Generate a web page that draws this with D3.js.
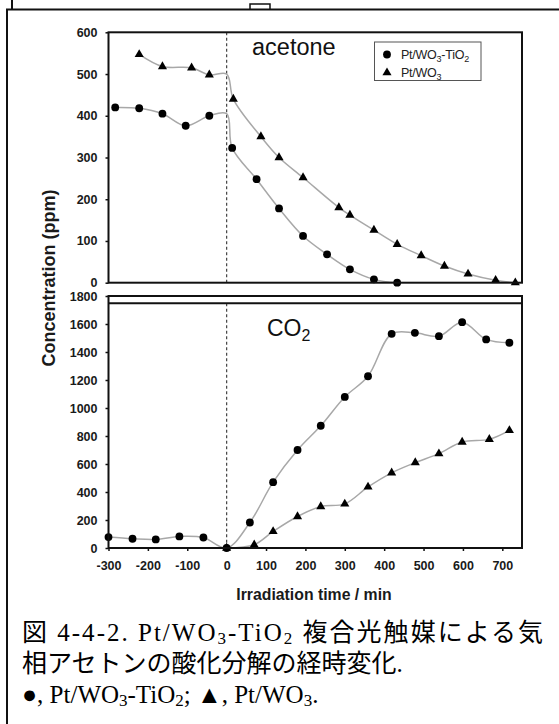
<!DOCTYPE html>
<html>
<head>
<meta charset="utf-8">
<script src="https://cdn.jsdelivr.net/npm/d3@7"></script>
<style>
  html, body { margin: 0; padding: 0; background: #fff; }
  svg { display: block; }
</style>
</head>
<body>
<svg id="fig" width="559" height="724"></svg>
<script>
// ---- Gas-phase acetone (ppm) ----
const acetoneTimeTiO2 = [-283, -222, -163, -104, -44, 14, 76, 133, 194, 255, 313, 374, 433];
const acetoneTiO2     = [420, 418, 405, 376, 400, 323, 248, 178, 112, 68, 32, 8, 0];
const acetoneTimeWO3  = [-222, -163, -89, -44, 17, 87, 133, 194, 285, 313, 374, 433, 494, 553, 613, 683, 733];
const acetoneWO3      = [547, 518, 515, 498, 440, 350, 300, 252, 180, 162, 126, 92, 65, 40, 21, 6, 0];
// level at the moment the lamp is switched on (curve vertex only): [Pt/WO3-TiO2, Pt/WO3]
const acetoneAtLightOn = [405, 500];

// ---- Evolved CO2 (ppm) ----
const co2TimeTiO2 = [-300, -239, -180, -120, -59, 0, 59, 118, 180, 239, 300, 359, 419, 478, 539, 598, 659, 718];
const co2TiO2     = [78, 66, 61, 83, 75, 0, 182, 470, 700, 873, 1079, 1227, 1530, 1537, 1513, 1613, 1490, 1466];
const co2TimeWO3  = [0, 70, 118, 180, 239, 300, 359, 419, 479, 539, 598, 667, 718];
const co2WO3      = [0, 23, 118, 225, 296, 315, 436, 537, 610, 674, 757, 776, 840];

// ---- axes ----
const timeTicks    = [-300, -200, -100, 0, 100, 200, 300, 400, 500, 600, 700];
const acetoneTicks = [0, 100, 200, 300, 400, 500, 600];
const co2Ticks     = [0, 200, 400, 600, 800, 1000, 1200, 1400, 1600, 1800];
const timeDomain    = [-300, 750];
const acetoneDomain = [0, 600];
const co2Domain     = [0, 1800];

const seriesNames = ["Pt/WO3-TiO2", "Pt/WO3"];

const svg = d3.select("#fig");
const tickFont = "'Liberation Sans', Arial, sans-serif";
const plainNum = d => String(d);   // "-300", "1800": ASCII hyphen, no grouping

const x = d3.scaleLinear().domain(timeDomain).range([108.5, 522]);
const yA = d3.scaleLinear().domain(acetoneDomain).range([282.7, 32.3]);
const yC = d3.scaleLinear().domain(co2Domain).range([548, 296]);

// ---- page frame ----
const frame = svg.append("g").attr("fill", "none").attr("stroke", "#111").attr("stroke-width", 2);
frame.append("path").attr("d", "M12,0V9.5");
frame.append("path").attr("d", "M6,9.5H559");
frame.append("path").attr("d", "M7,9V724");
frame.append("path").attr("d", "M250,9.5V4H270V9.5").attr("stroke-width", 1.5);

const pts = (ts, vs) => d3.zip(ts, vs).map(([t, v]) => ({ t, v }));

function styleTickText(sel) {
  sel.selectAll("text")
    .attr("font-family", tickFont).attr("font-weight", "bold")
    .attr("font-size", 12.5).attr("fill", "#1a1a1a");
}

function panel(y, ticks, opts) {
  const g = svg.append("g");
  const [x0, x1] = x.range();
  const [yb, yt] = y.range();

  // light-on marker
  g.append("line")
    .attr("x1", x(0)).attr("x2", x(0))
    .attr("y1", opts.dashTop).attr("y2", yb)
    .attr("stroke", "#444").attr("stroke-width", 1.2)
    .attr("stroke-dasharray", "3,2.5");

  // y axis
  const ay = g.append("g").attr("transform", `translate(${x0},0)`)
    .call(d3.axisLeft(y).tickValues(ticks).tickFormat(plainNum).tickSize(3).tickPadding(8));
  ay.select(".domain").remove();
  ay.selectAll("line").attr("stroke", "#111").attr("stroke-width", 1.5);
  styleTickText(ay);

  if (opts.xAxis) {
    const ax = g.append("g").attr("transform", `translate(0,${yb})`)
      .call(d3.axisBottom(x).tickValues(timeTicks).tickFormat(plainNum).tickSize(3).tickPadding(10));
    ax.select(".domain").remove();
    ax.selectAll("line").attr("stroke", "#111").attr("stroke-width", 1.5);
    styleTickText(ax);
  }

  // curves
  const line = d3.line().x(d => x(d.t)).y(d => y(d.v))
    .curve(d3.curveCatmullRom.alpha(0.5));
  opts.series.forEach(s => {
    g.append("path").datum(s.line)
      .attr("d", line)
      .attr("fill", "none").attr("stroke", "#a8a8a8").attr("stroke-width", 1.5);
  });
  opts.series.forEach(s => {
    const sym = s.shape === "circle" ? d3.symbol(d3.symbolCircle, 48) : d3.symbol(d3.symbolTriangle, 36);
    g.selectAll(null).data(s.marks).join("path")
      .attr("d", sym)
      .attr("transform", d => `translate(${x(d.t)},${y(d.v)})`)
      .attr("fill", "#000");
  });

  // panel box
  g.append("rect")
    .attr("x", x0).attr("y", yt).attr("width", x1 - x0).attr("height", yb - yt)
    .attr("fill", "none").attr("stroke", "#111").attr("stroke-width", 2);
  if (opts.innerTop) {
    g.append("line").attr("x1", x0).attr("x2", x1)
      .attr("y1", opts.innerTop).attr("y2", opts.innerTop)
      .attr("stroke", "#111").attr("stroke-width", 2);
  }
  return g;
}

// acetone panel
const acTiO2 = pts(acetoneTimeTiO2, acetoneTiO2);
const acWO3 = pts(acetoneTimeWO3, acetoneWO3);
const withLightOn = (arr, v) =>
  arr.filter(d => d.t < 0).concat([{ t: 0, v }], arr.filter(d => d.t > 0));
const gA = panel(yA, acetoneTicks, {
  dashTop: yA.range()[1],
  series: [
    { shape: "circle", marks: acTiO2, line: withLightOn(acTiO2, acetoneAtLightOn[0]) },
    { shape: "triangle", marks: acWO3, line: withLightOn(acWO3, acetoneAtLightOn[1]) }
  ]
});

// CO2 panel
const coTiO2 = pts(co2TimeTiO2, co2TiO2);
const coWO3 = pts(co2TimeWO3, co2WO3);
const gC = panel(yC, co2Ticks, {
  xAxis: true,
  innerTop: yC.range()[1] + 7.3,
  dashTop: yC.range()[1] + 7.3,
  series: [
    { shape: "circle", marks: coTiO2, line: coTiO2 },
    { shape: "triangle", marks: coWO3, line: coWO3 }
  ]
});

// panel titles
gA.append("text").attr("x", 252).attr("y", 55)
  .attr("font-family", tickFont).attr("font-size", 23.5).attr("fill", "#111")
  .text("acetone");
const co2Label = gC.append("text").attr("x", 267).attr("y", 336)
  .attr("font-family", tickFont).attr("font-size", 23).attr("fill", "#111");
co2Label.append("tspan").text("CO");
co2Label.append("tspan").attr("font-size", 16).attr("dy", 5).text("2");

// legend
const leg = gA.append("g");
leg.append("rect").attr("x", 374.5).attr("y", 42).attr("width", 106.5).attr("height", 38.5)
  .attr("fill", "#fff").attr("stroke", "#555").attr("stroke-width", 1);
const legendRows = [
  { shape: d3.symbolCircle, size: 48, parts: [["Pt/WO"], ["3", 1], ["-TiO"], ["2", 1]] },
  { shape: d3.symbolTriangle, size: 36, parts: [["Pt/WO"], ["3", 1]] }
];
legendRows.forEach((r, i) => {
  const cy = 54.5 + i * 18.2;
  leg.append("path").attr("d", d3.symbol(r.shape, r.size))
    .attr("transform", `translate(387,${cy})`).attr("fill", "#000");
  const t = leg.append("text").attr("x", 401).attr("y", cy + 4.4)
    .attr("font-family", tickFont).attr("font-size", 12.5).attr("fill", "#222")
    .attr("letter-spacing", -0.25)
    .attr("aria-label", seriesNames[i]);
  let lowered = false;
  r.parts.forEach(([s, sub]) => {
    const ts = t.append("tspan").text(s);
    if (sub) { ts.attr("font-size", 9).attr("dy", 3); lowered = true; }
    else if (lowered) { ts.attr("dy", -3); lowered = false; }
  });
});

// axis titles
svg.append("text")
  .attr("transform", `translate(55,278) rotate(-90)`)
  .attr("text-anchor", "middle")
  .attr("font-family", tickFont).attr("font-weight", "bold").attr("font-size", 18)
  .attr("fill", "#1a1a1a")
  .text("Concentration (ppm)");
svg.append("text")
  .attr("x", 314).attr("y", 600).attr("text-anchor", "middle")
  .attr("font-family", tickFont).attr("font-weight", "bold").attr("font-size", 15.8)
  .attr("fill", "#1a1a1a")
  .text("Irradiation time / min");

// caption
const capFont = "'Liberation Serif', 'Noto Sans CJK JP', serif";
const cap = svg.append("g").attr("font-family", capFont).attr("font-size", 25).attr("fill", "#000");
function capLine(y, parts, len) {
  const t = cap.append("text").attr("x", 22).attr("y", y);
  if (len) t.attr("textLength", len).attr("lengthAdjust", "spacing");
  let lowered = false;
  parts.forEach(p => {
    const isSub = Array.isArray(p);
    const s = t.append("tspan").text(isSub ? p[0] : p);
    if (isSub) { s.attr("font-size", 17).attr("dy", lowered ? 0 : 3); lowered = true; }
    else { if (lowered) s.attr("dy", -3); lowered = false; }
  });
}
capLine(641, ["図 4-4-2. Pt/WO", ["3"], "-TiO", ["2"], " 複合光触媒による気"], 521);
capLine(672, ["相アセトンの酸化分解の経時変化."]);
capLine(703, ["●, Pt/WO", ["3"], "-TiO", ["2"], "; ▲, Pt/WO", ["3"], "."]);
</script>
</body>
</html>
